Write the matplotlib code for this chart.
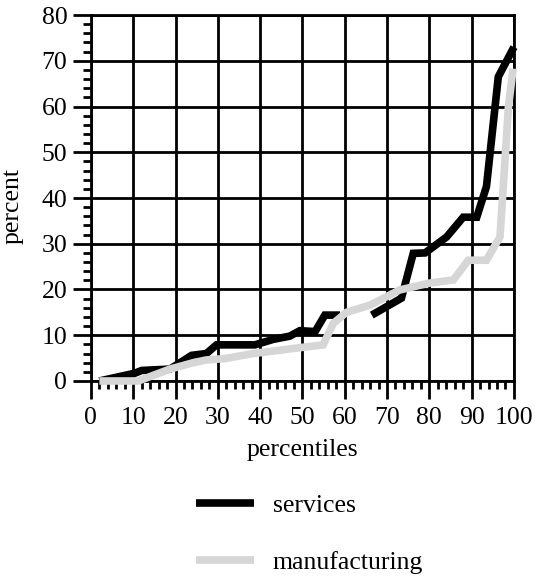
import numpy as np
import matplotlib.pyplot as plt
from matplotlib.ticker import MultipleLocator

# Data; NaN marks the gap in the services line
serv_x = [2, 10.4, 12, 18.7, 23.8, 27.3, 29.7, 38.8, 43.1, 47, 49.4, 53, 55.3, 58.9,
          60, 66.4, 73.4, 76.2, 79, 84.1, 88, 91.2, 93.5, 96.3, 100]
serv_y = [0, 1.7, 2.3, 2.6, 5.6, 6.0, 7.9, 7.9, 9.1, 9.8, 11.0, 10.8, 14.4, 14.4,
          np.nan, 14.4, 18.1, 27.9, 28.0, 31.5, 35.8, 35.8, 42.5, 66.5, 73]

manu_x = [2, 11.2, 18.7, 24.2, 27.3, 31.7, 38.4, 47.8, 54.9, 57.3, 60.4, 66,
          73, 80, 85.7, 89.2, 93.5, 96.7, 98.7, 99.8]
manu_y = [0, 0, 2.6, 4.0, 4.6, 4.9, 6.0, 7.1, 7.9, 12.6, 15.0, 16.6,
          19.9, 21.4, 22.1, 26.4, 26.4, 31.5, 60, 68.3]

plt.rcParams['font.family'] = ['Liberation Serif', 'DejaVu Serif']
fs = 18.5

fig = plt.figure(figsize=(5.41, 5.79), dpi=100)
ax = fig.add_axes([0.168, 0.342, 0.782, 0.632])

l1, = ax.plot(serv_x, serv_y, color='black', lw=5.5, solid_joinstyle='miter',
              solid_capstyle='butt', label='services', zorder=3, clip_on=False)
l2, = ax.plot(manu_x, manu_y, color='#d6d6d6', lw=5.5, solid_joinstyle='miter',
              solid_capstyle='butt', label='manufacturing', zorder=4, clip_on=False)

ax.set_xlim(0, 100)
ax.set_ylim(0, 80)
ax.xaxis.set_major_locator(MultipleLocator(10))
ax.xaxis.set_minor_locator(MultipleLocator(2))
ax.yaxis.set_major_locator(MultipleLocator(10))
ax.yaxis.set_minor_locator(MultipleLocator(2))
ax.grid(True, which='major', color='black', lw=2)
ax.set_axisbelow(True)

for s in ax.spines.values():
    s.set_linewidth(2)

ax.tick_params(which='major', direction='out', length=13, width=2, labelsize=fs)
ax.tick_params(which='minor', direction='out', length=6, width=2)
ax.tick_params(axis='x', which='major', pad=6)
ax.tick_params(axis='y', which='major', pad=4)

ax.set_xlabel('percentiles', fontsize=fs, labelpad=7)
ax.set_ylabel('percent', fontsize=fs)
ax.yaxis.set_label_coords(-0.16, 0.478)

fig.legend(handles=[l1, l2], loc='center left', bbox_to_anchor=(0.319, 0.078),
           frameon=False, fontsize=fs, handlelength=2.26, handletextpad=0.74,
           labelspacing=1.3)

fig.savefig('out.png', dpi=100)
